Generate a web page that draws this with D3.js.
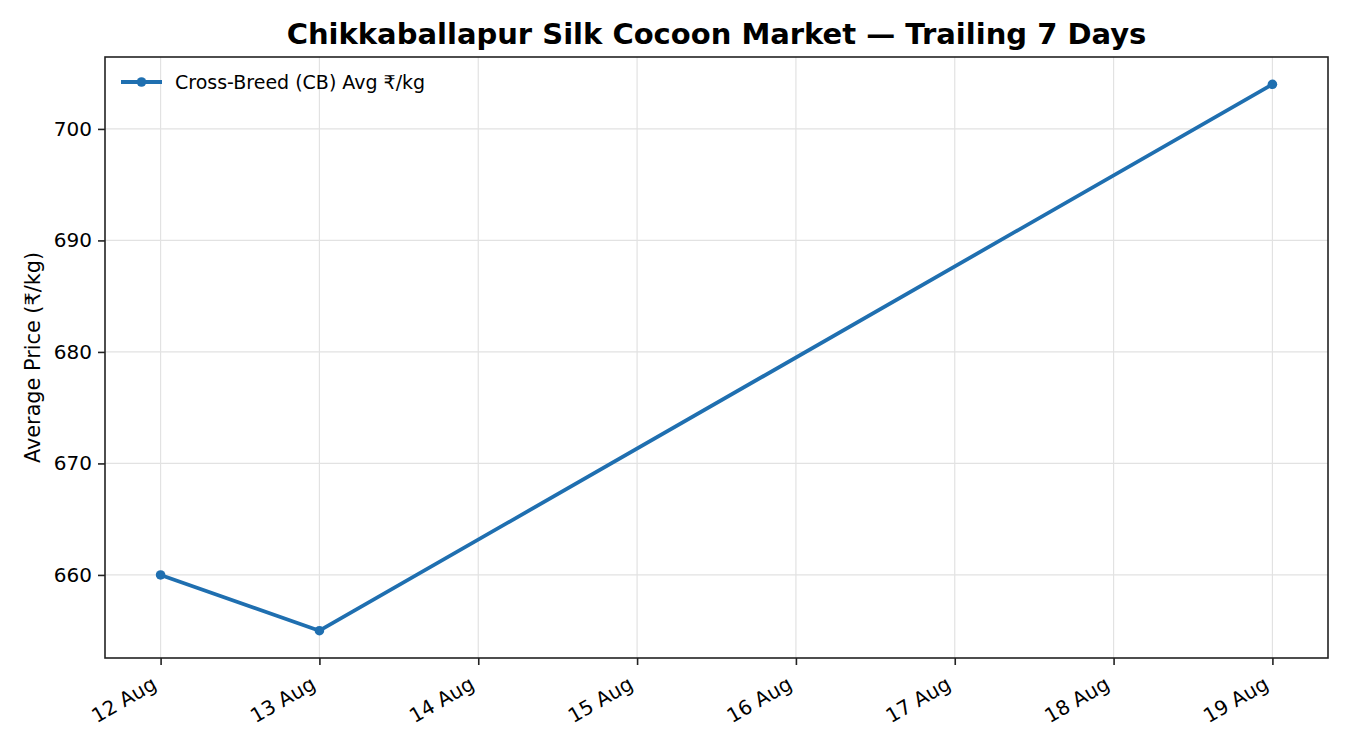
<!DOCTYPE html>
<html>
<head>
<meta charset="utf-8">
<script src="https://cdn.jsdelivr.net/npm/d3@7"></script>
<style>
  body { margin: 0; background: #fff; }
  svg, svg text { font-family: 'DejaVu Sans', 'Noto Sans', sans-serif; }
</style>
</head>
<body>
<div id="chart"></div>
<script>
// data
const dates = ['2024-08-12', '2024-08-13', '2024-08-19'];
const prices = [660, 655, 704];
const tickLabels = ['12 Aug', '13 Aug', '14 Aug', '15 Aug', '16 Aug', '17 Aug', '18 Aug', '19 Aug'];
const yTicks = [660, 670, 680, 690, 700];
const seriesName = 'Cross-Breed (CB) Avg ₹/kg';

const width = 1350, height = 750;
const m = {left: 105, right: 22, top: 57, bottom: 92};
const color = '#1f6fb0';
const font = "'DejaVu Sans', sans-serif";

const parse = d3.utcParse('%Y-%m-%d');
const points = dates.map((d, i) => ({date: parse(d), value: prices[i]}));

const svg = d3.select('#chart').append('svg')
    .attr('width', width)
    .attr('height', height)
    .style('font-family', font);

// scales with matplotlib-like 5% margins
const day = 24 * 3600 * 1000;
const x0 = parse('2024-08-12'), x1 = parse('2024-08-19');
const xPad = (x1 - x0) * 0.05;
const xScale = d3.scaleUtc()
    .domain([new Date(+x0 - xPad), new Date(+x1 + xPad)])
    .range([m.left, width - m.right]);

const yMin = d3.min(prices), yMax = d3.max(prices);
const yPad = (yMax - yMin) * 0.05;
const yScale = d3.scaleLinear()
    .domain([yMin - yPad, yMax + yPad])
    .range([height - m.bottom, m.top]);

const tickDates = tickLabels.map((t, i) => new Date(+x0 + i * day));

// grid
svg.append('g')
    .selectAll('line')
    .data(tickDates)
    .enter()
    .append('line')
    .attr('x1', d => xScale(d)).attr('x2', d => xScale(d))
    .attr('y1', m.top).attr('y2', height - m.bottom)
    .attr('stroke', '#e2e2e2').attr('stroke-width', 1.2);

svg.append('g')
    .selectAll('line')
    .data(yTicks)
    .enter()
    .append('line')
    .attr('x1', m.left).attr('x2', width - m.right)
    .attr('y1', d => yScale(d)).attr('y2', d => yScale(d))
    .attr('stroke', '#e2e2e2').attr('stroke-width', 1.2);

// axes
const xAxis = d3.axisBottom(xScale)
    .tickValues(tickDates)
    .tickFormat((d, i) => tickLabels[i])
    .tickSize(7);
const gx = svg.append('g')
    .attr('transform', 'translate(0,' + (height - m.bottom) + ')')
    .call(xAxis)
    .attr('font-family', null);
gx.select('.domain').remove();
gx.selectAll('line').attr('stroke', '#222').attr('stroke-width', 1.6);
gx.selectAll('text')
    .style('font-family', font)
    .attr('font-size', '20px')
    .attr('fill', '#000')
    .attr('text-anchor', 'end')
    .attr('x', 0).attr('y', 0).attr('dy', 0)
    .attr('transform', 'translate(-3,30) rotate(-30)');

const yAxis = d3.axisLeft(yScale)
    .tickValues(yTicks)
    .tickSize(7).tickPadding(6);
const gy = svg.append('g')
    .attr('transform', 'translate(' + m.left + ',0)')
    .call(yAxis)
    .attr('font-family', null);
gy.select('.domain').remove();
gy.selectAll('line').attr('stroke', '#222').attr('stroke-width', 1.6);
gy.selectAll('text')
    .style('font-family', font)
    .attr('font-size', '20px')
    .attr('fill', '#000');

// frame
svg.append('rect')
    .attr('x', m.left).attr('y', m.top)
    .attr('width', width - m.left - m.right)
    .attr('height', height - m.top - m.bottom)
    .attr('fill', 'none')
    .attr('stroke', '#222').attr('stroke-width', 1.6);

// line
const line = d3.line()
    .x(d => xScale(d.date))
    .y(d => yScale(d.value));

svg.append('path')
    .datum(points)
    .attr('d', line)
    .attr('fill', 'none')
    .attr('stroke', color)
    .attr('stroke-width', 3.8)
    .attr('stroke-linejoin', 'round');

svg.selectAll('circle.pt')
    .data(points)
    .enter()
    .append('circle')
    .attr('class', 'pt')
    .attr('cx', d => xScale(d.date))
    .attr('cy', d => yScale(d.value))
    .attr('r', 4.8)
    .attr('fill', color);

// legend
const lg = svg.append('g').attr('transform', 'translate(121,82)');
lg.append('line')
    .attr('x1', 0).attr('x2', 41)
    .attr('stroke', color).attr('stroke-width', 3.8);
lg.append('circle').attr('cx', 20.5).attr('r', 4.8).attr('fill', color);
lg.append('text')
    .attr('x', 54).attr('dy', '0.35em')
    .attr('font-size', '19px')
    .text(seriesName);

// title and labels
svg.append('text')
    .attr('x', m.left + (width - m.left - m.right) / 2)
    .attr('y', 44)
    .attr('text-anchor', 'middle')
    .attr('font-size', '29px')
    .attr('font-weight', 'bold')
    .text('Chikkaballapur Silk Cocoon Market — Trailing 7 Days');

svg.append('text')
    .attr('transform', 'translate(40,' + (m.top + (height - m.top - m.bottom) / 2) + ') rotate(-90)')
    .attr('text-anchor', 'middle')
    .attr('font-size', '20.8px')
    .text('Average Price (₹/kg)');
</script>
</body>
</html>
